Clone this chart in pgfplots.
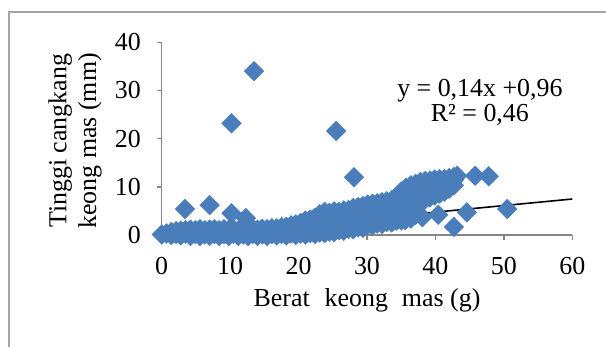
\documentclass[border=0pt]{standalone}
\usepackage{pgfplots}
\usepackage{pgfplotstable}
\usepackage{fontspec}
\setmainfont{Liberation Serif}
\pgfplotsset{compat=1.18}
\definecolor{markblue}{RGB}{74,126,187}
\definecolor{axisgray}{RGB}{134,134,134}
\definecolor{framegray}{RGB}{165,165,165}

\pgfplotstableread{
x y
0.0 0.1
0.7 0.3
1.4 0.0
1.4 0.6
2.1 0.2
2.1 0.8
2.8 -0.1
2.8 0.9
3.5 0.3
3.5 1.0
4.2 -0.2
4.2 0.6
4.2 1.1
4.9 0.2
4.9 1.0
5.6 -0.2
5.6 0.6
5.6 1.2
6.3 0.1
6.3 1.0
7.0 -0.2
7.0 0.6
7.0 1.1
7.7 0.2
7.7 1.2
8.4 -0.2
8.4 0.7
8.4 1.0
9.1 0.1
9.1 1.2
9.8 -0.2
9.8 0.6
9.8 1.1
10.5 0.2
10.5 1.2
11.2 -0.2
11.2 0.7
11.2 1.0
11.9 0.1
11.9 1.2
12.6 -0.2
12.6 0.6
12.6 1.1
13.3 0.2
13.3 1.3
14.0 -0.2
14.0 0.7
14.0 1.1
14.7 0.1
14.7 1.3
15.4 -0.2
15.4 0.6
15.4 1.2
16.1 0.2
16.1 1.4
16.8 -0.1
16.8 0.7
16.8 1.4
17.5 0.2
17.5 1.6
18.2 -0.1
18.2 0.8
18.2 1.7
18.9 0.3
18.9 1.3
18.9 2.0
19.6 0.0
19.6 1.0
19.6 2.2
20.3 0.3
20.3 1.4
20.3 2.5
21.0 0.1
21.0 1.2
21.0 2.3
21.0 3.0
21.7 0.4
21.7 1.6
21.7 3.2
22.4 0.2
22.4 1.3
22.4 2.5
22.4 3.6
23.1 0.5
23.1 1.7
23.1 3.0
23.1 4.3
23.8 0.4
23.8 1.5
23.8 2.7
23.8 3.9
23.8 4.8
24.5 0.7
24.5 2.0
24.5 3.3
24.5 4.6
25.2 0.6
25.2 1.8
25.2 3.0
25.2 4.2
25.2 4.9
25.9 1.0
25.9 2.3
25.9 3.6
25.9 4.8
26.6 0.9
26.6 2.1
26.6 3.3
26.6 4.5
26.6 5.1
27.3 1.3
27.3 2.5
27.3 3.8
27.3 5.2
28.0 1.2
28.0 2.4
28.0 3.6
28.0 4.8
28.0 5.6
28.7 1.6
28.7 2.9
28.7 4.2
28.7 5.8
29.4 1.5
29.4 2.7
29.4 3.9
29.4 5.1
29.4 6.0
30.1 2.1
30.1 3.3
30.1 4.6
30.1 6.3
30.8 2.0
30.8 3.2
30.8 4.4
30.8 5.6
30.8 6.5
31.5 2.4
31.5 3.7
31.5 5.0
31.5 6.6
32.2 2.3
32.2 3.5
32.2 4.7
32.2 5.9
32.2 6.8
32.9 2.7
32.9 4.0
32.9 5.3
32.9 7.0
33.6 2.6
33.6 3.8
33.6 5.0
33.6 6.2
33.6 7.2
34.3 3.0
34.3 4.3
34.3 5.6
34.3 6.9
34.3 7.9
35.0 3.0
35.0 4.2
35.0 5.4
35.0 6.6
35.0 7.8
35.0 9.0
35.7 3.4
35.7 4.7
35.7 6.0
35.7 7.3
35.7 8.6
35.7 9.8
36.4 3.4
36.4 4.6
36.4 5.8
36.4 7.0
36.4 8.2
36.4 9.4
36.4 10.3
37.1 4.2
37.1 5.5
37.1 6.8
37.1 8.1
37.1 9.4
37.1 10.6
37.8 6.6
37.8 7.8
37.8 9.0
37.8 10.2
37.8 11.0
38.5 7.4
38.5 8.7
38.5 10.0
38.5 11.2
39.2 7.8
39.2 9.0
39.2 10.2
39.2 11.3
39.9 8.2
39.9 9.5
39.9 10.8
39.9 11.5
40.6 8.6
40.6 9.8
40.6 11.0
40.6 11.6
41.3 9.0
41.3 10.3
41.3 11.6
42.0 9.6
42.0 10.8
42.0 11.8
42.7 10.3
42.7 11.4
42.7 12.0
3.4 5.4
7.0 6.2
10.2 23.2
13.5 34.0
10.2 4.5
12.3 3.5
25.5 21.6
28.1 12.0
50.5 5.4
47.8 12.2
45.8 12.3
43.2 12.3
42.7 1.7
44.6 4.7
40.4 4.2
38.1 3.7
35.6 3.1
}\datatable

\begin{document}
\begin{tikzpicture}
\fontsize{26}{30}\selectfont
\useasboundingbox (-161.7bp,-112bp) rectangle (444.3bp,235bp);
\draw[framegray, line width=1.3bp] (-152.7bp,-112bp) -- (-152.7bp,223bp) -- (444.3bp,223bp);
\begin{axis}[
  at={(0,0)}, anchor=south west,
  scale only axis,
  width=410.6bp, height=192.7bp,
  xmin=0, xmax=60, ymin=0, ymax=40,
  xtick={0,10,...,60}, ytick={0,10,...,40},
  axis x line*=bottom, axis y line*=left,
  axis line style={axisgray, line width=1.5bp},
  tick style={axisgray, line width=1.5bp},
  tick align=outside,
  major tick length=5bp,
  clip=false,
  ticklabel style={font=\fontsize{26}{30}\selectfont},
  /pgf/number format/assume math mode=true,
  yticklabel style={anchor=east, xshift=-7bp},
  xticklabel style={anchor=north, yshift=-8bp},
  xlabel={Berat\hspace{15bp}keong\hspace{14bp}mas (g)},
  xlabel style={at={(axis description cs:0.5,-0.337)}, anchor=center, font=\fontsize{26}{30}\selectfont},
  ylabel={Tinggi cangkang\\keong mas (mm)},
  ylabel style={at={(axis description cs:-0.211,0.488)}, anchor=center, align=center, font=\fontsize{26}{30}\selectfont},
]
\addplot[only marks, mark=square*, mark size=7.0bp,
  mark options={fill=markblue, draw=markblue, line width=0.3bp, rotate=45}] table[x=x, y=y] {\datatable};
\addplot[black, line width=1.6bp] coordinates {(5.2,0.0) (60,7.47)};
\node[align=center, font=\fontsize{26}{25}\selectfont] at (axis cs:46.5,27.6) {y = 0,14x +0,96\\R² = 0,46};
\end{axis}
\end{tikzpicture}
\end{document}
